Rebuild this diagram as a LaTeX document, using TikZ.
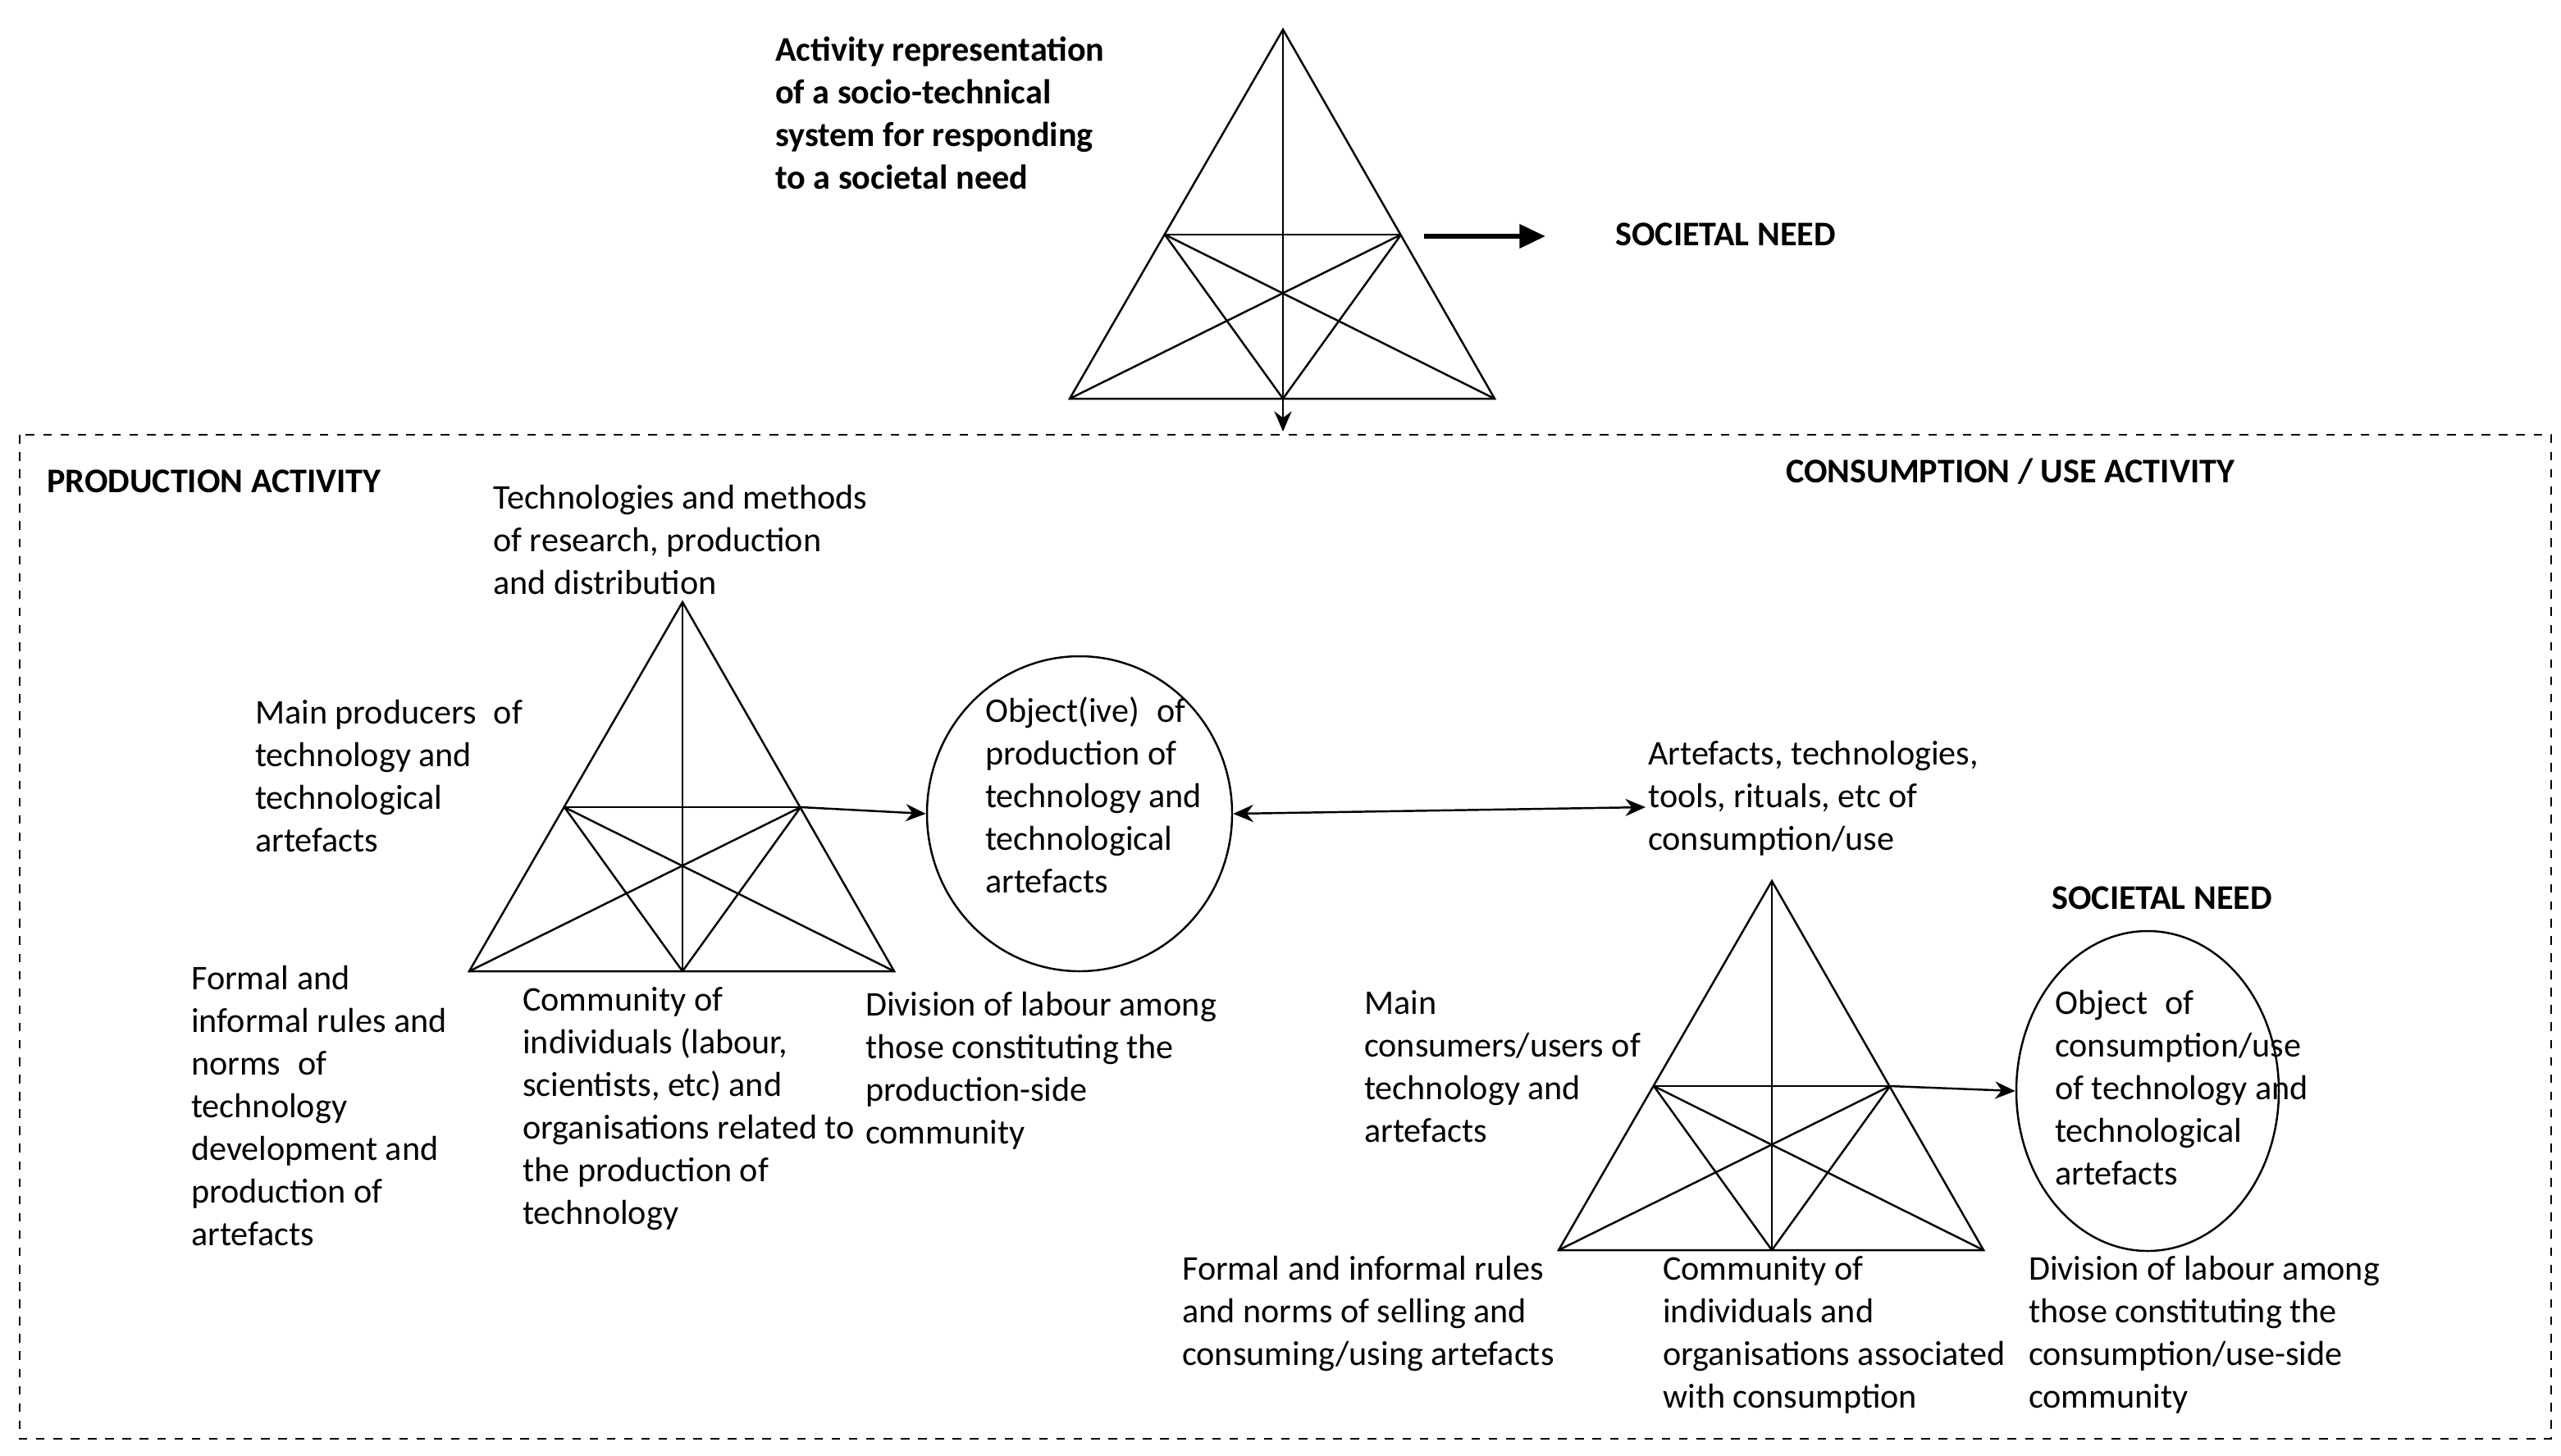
\documentclass[tikz,border=0pt]{standalone}
\usepackage{fontspec}
\setmainfont{Carlito}
\usetikzlibrary{arrows.meta,shapes.geometric}
\begin{document}
\begin{tikzpicture}[x=0.02cm,y=-0.02cm,line width=0.7pt,
  txt/.style={anchor=north west,align=left,inner sep=0pt,font=\fontsize{12}{14.8}\selectfont},
  btxt/.style={txt,font=\fontsize{12}{14.8}\selectfont\bfseries},
  arr/.style={-{Stealth[length=7pt,width=6pt]}},
  act/.pic={
    \coordinate (-A) at (0,0);
    \coordinate (-L) at (-130,225);
    \coordinate (-R) at (129,225);
    \coordinate (-M) at (0,225);
    \coordinate (-P) at (-72,125);
    \coordinate (-Q) at (72,125);
    \draw (-A) -- (-L) -- (-R) -- cycle;
    \draw (-P) -- (-Q);
    \draw (-A) -- (-M);
    \draw (-P) -- (-R); \draw (-Q) -- (-L);
    \draw (-P) -- (-M); \draw (-Q) -- (-M);
  }]
\useasboundingbox (0,0) rectangle (1561,887);
% top
\pic (t) at (782,18) {act};
\coordinate (tdown) at (782,263);
\draw[arr] (t-M) -- (tdown);
\coordinate (tarrS) at (868,144);
\node[btxt,anchor=west] (sn1) at (984,143) {SOCIETAL NEED};
\draw[-{Triangle[length=9pt,width=8pt]},line width=1.8pt] (tarrS) -- (942,144);
\node[btxt] (title) at (472,22) {Activity representation\\of a socio-technical\\system for responding\\to a societal need};
% box
\draw[dashed,line width=0.6pt] (12,265) rectangle (1555,877);
\node[btxt] (pa) at (28,286) {PRODUCTION ACTIVITY};
\node[btxt] (ca) at (1088,279) {CONSUMPTION / USE ACTIVITY};
% production
\pic (p) at (416,367) {act};
\node[draw,ellipse,minimum width=186*0.02cm,minimum height=192*0.02cm,inner sep=0pt] (po) at (658,496) {};
\draw[arr] (p-Q) -- (po.west);
\node[txt] at (300,295) {Technologies and methods\\of research, production\\and distribution};
\node[txt] at (155,426) {Main producers\enspace of\\technology and\\technological\\artefacts};
\node[txt] at (600,424) {Object(ive)\enspace of\\production of\\technology and\\technological\\artefacts};
\node[txt] at (116,588) {Formal and\\informal rules and\\norms\enspace of\\technology\\development and\\production of\\artefacts};
\node[txt] at (318,601) {Community of\\individuals (labour,\\scientists, etc) and\\organisations related to\\the production of\\technology};
\node[txt] at (527,604) {Division of labour among\\those constituting the\\production-side\\community};
% consumption
\coordinate (cin) at (1003,492);
\draw[{Stealth[length=7pt,width=6pt]}-{Stealth[length=7pt,width=6pt]}] (po.east) -- (cin);
\node[txt] (cart) at (1004,451) {Artefacts, technologies,\\tools, rituals, etc of\\consumption/use};
\pic (c) at (1080,537) {act};
\node[draw,ellipse,minimum width=160*0.02cm,minimum height=195*0.02cm,inner sep=0pt] (co) at (1309,665) {};
\draw[arr] (c-Q) -- (co.west);
\node[btxt] at (1250,540) {SOCIETAL NEED};
\node[txt] at (831,603) {Main\\consumers/users of\\technology and\\artefacts};
\node[txt] at (1252,603) {Object\enspace of\\consumption/use\\of technology and\\technological\\artefacts};
\node[txt] at (720,765) {Formal and informal rules\\and norms of selling and\\consuming/using artefacts};
\node[txt] at (1013,765) {Community of\\individuals and\\organisations associated\\with consumption};
\node[txt] at (1236,765) {Division of labour among\\those constituting the\\consumption/use-side\\community};
\end{tikzpicture}
\end{document}
